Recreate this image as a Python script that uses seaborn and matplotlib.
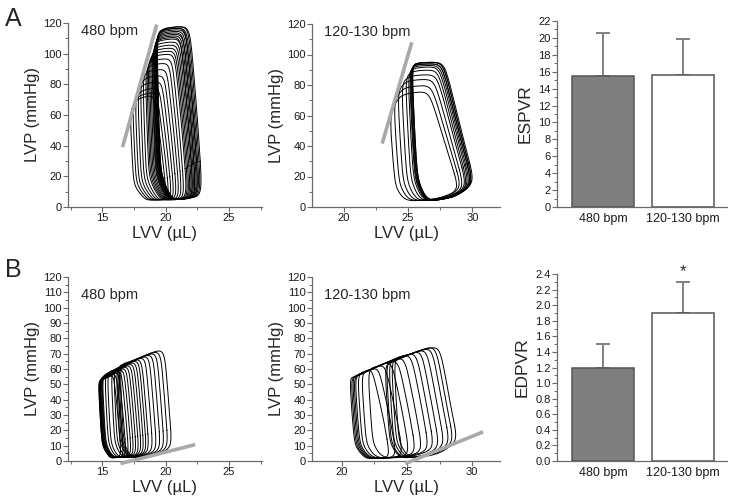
import numpy as np
import pandas as pd
import seaborn as sns
import matplotlib
matplotlib.use("Agg")
import matplotlib.pyplot as plt
from matplotlib.ticker import MultipleLocator

# ---- values ----
# PV loops, one entry per loop (largest -> smallest): end-systolic volume/pressure,
# peak pressure, end-diastolic volume/pressure
a_fast_esv = [19.3, 19.3, 19.25, 19.25, 19.2, 19.2, 19.15, 19.1, 19.1, 19.05, 19.0, 18.95,
              18.9, 18.8, 18.7, 18.6, 18.5, 18.4, 18.2, 18.0, 17.8, 17.6, 17.4, 17.2]
a_fast_pes = [113, 113, 112, 112, 111, 110, 109, 108, 107, 106, 105, 103,
              101, 99, 97, 95, 92, 89, 85, 80, 75, 70, 66, 62]
a_fast_ppk = [118, 118, 117, 117, 116, 115, 114, 113, 112, 111, 110, 108,
              106, 104, 102, 100, 97, 94, 90, 86, 82, 78, 75, 73]
a_fast_edv = [22.9, 22.8, 22.7, 22.6, 22.6, 22.5, 22.4, 22.4, 22.3, 22.2, 22.2, 22.1,
              22.0, 21.9, 21.8, 21.7, 21.5, 21.3, 21.1, 20.9, 20.7, 20.5, 20.3, 20.1]
a_fast_edp = [8, 8, 8, 8, 8, 8, 7.5, 7.5, 7.5, 7, 7, 7, 7, 6.5, 6.5, 6.5, 6, 6, 6, 6, 5.5, 5.5, 5.5, 5]

a_slow_esv = [25.3, 25.3, 25.25, 25.2, 25.15, 25.1, 25.0, 24.8, 24.5, 24.2, 23.9, 23.6]
a_slow_pes = [93, 93, 92, 92, 91, 90, 88, 85, 81, 76, 69, 60]
a_slow_ppk = [95, 95, 95, 94, 94, 93, 92, 90, 87, 84, 80, 76]
a_slow_edv = [30.2, 30.1, 30.1, 30.0, 30.0, 29.9, 29.8, 29.7, 29.6, 29.4, 29.2, 29.0]
a_slow_edp = [16, 16, 15, 15, 15, 14, 14, 13, 13, 12, 12, 11]

b_fast_esv = [16.4, 16.3, 16.2, 16.1, 15.9, 15.7, 15.4, 15.2, 15.0, 14.95, 14.9, 14.85,
              14.8, 14.8, 14.75, 14.75, 14.7, 14.7]
b_fast_pes = [63, 62, 62, 61, 60, 59, 58, 57, 56, 55, 55, 54, 54, 53, 53, 53, 52, 52]
b_fast_ppk = [73, 72, 71, 70, 69, 68, 67, 66, 65, 64, 63, 62, 61, 60, 59, 58, 57, 56]
b_fast_edv = [20.5, 20.2, 19.9, 19.6, 19.3, 19.0, 18.7, 18.5, 18.3, 18.1, 17.9, 17.7,
              17.5, 17.3, 17.1, 16.9, 16.7, 16.5]
b_fast_edp = [9, 8.5, 8, 7.5, 7, 6.5, 6, 5.5, 5, 5, 4.5, 4.5, 4, 4, 3.5, 3.5, 3, 3]

b_slow_esv = [24.0, 23.8, 23.6, 23.4, 23.3, 22.0, 21.5, 21.2, 21.0, 20.9, 20.8, 20.7, 20.6]
b_slow_pes = [67, 66, 65, 64, 63, 60, 58, 57, 56, 55, 55, 54, 54]
b_slow_ppk = [75, 75, 74, 73, 72, 71, 70, 68, 66, 65, 63, 61, 60]
b_slow_edv = [28.9, 28.6, 28.3, 27.9, 27.5, 27.1, 26.7, 26.2, 25.7, 25.2, 24.7, 24.2, 23.7]
b_slow_edp = [13, 12, 11, 10, 9, 8, 7, 6, 5, 4, 3.5, 3, 2.5]

# ESPVR / EDPVR fit lines (volume, pressure at the two ends)
a_fast_fit_v, a_fast_fit_p = [16.6, 19.3], [39, 119]
a_slow_fit_v, a_slow_fit_p = [23.0, 25.3], [41.6, 108]
b_fast_fit_v, b_fast_fit_p = [16.44, 22.33], [-1.7, 10.7]
b_slow_fit_v, b_slow_fit_p = [24.87, 30.85], [-1.7, 19]

# bar panels
groups = ["480 bpm", "120-130 bpm"]
espvr_mean = [15.5, 15.6]
espvr_sem = [5.1, 4.3]
edpvr_mean = [1.2, 1.9]
edpvr_sem = [0.3, 0.4]


def rounded(pts, cut=0.2, n_iter=4):
    # corner-rounding of a closed polygon (Chaikin)
    pts = np.asarray(pts, float)
    dense = []
    for i in range(len(pts)):
        a, b = pts[i], pts[(i + 1) % len(pts)]
        dense += [a, a + cut * (b - a), b - cut * (b - a)]
    p = np.array(dense[1:] + dense[:1])
    p = p[[i for i in range(len(p)) if i % 3 != 2]]  # drop the hard corners
    for _ in range(n_iter):
        q = np.roll(p, -1, axis=0)
        new = np.empty((2 * len(p), 2))
        new[0::2] = 0.75 * p + 0.25 * q
        new[1::2] = 0.25 * p + 0.75 * q
        p = new
    return np.vstack([p, p[:1]])


def loops_frame(esv, pes, ppk, edv, edp, pmin, slant, lean, foot, flat):
    rows = []
    for k, (v0, p0, pk, v1, p1) in enumerate(zip(esv, pes, ppk, edv, edp)):
        trv = v1 - slant
        poly = [
            (v1, p1),
            (v1 - 0.35 * slant, 0.45 * pk),
            (trv + 0.1 * slant, 0.93 * pk),
            (trv - 0.1 * (trv - v0), pk),
            (v0 + 0.25 * (trv - v0), p0 + flat * (pk - p0)),
            (v0, p0),
            (v0 + 0.5 * lean, 0.5 * (p0 + pmin)),
            (v0 + lean, pmin + 0.15 * p0),
            (v0 + lean + foot, pmin),
            (v1 - 0.3 * (v1 - v0), pmin + 0.25 * (p1 - pmin)),
        ]
        xy = rounded(poly)
        rows.append(pd.DataFrame({"loop": k, "V": xy[:, 0], "P": xy[:, 1]}))
    return pd.concat(rows, ignore_index=True)


sns.set_style("ticks")
plt.rcParams["font.family"] = ["Liberation Sans", "DejaVu Sans"]
plt.rcParams["axes.edgecolor"] = "#6a6a6a"
plt.rcParams["xtick.color"] = "#6a6a6a"
plt.rcParams["ytick.color"] = "#6a6a6a"
plt.rcParams["xtick.labelcolor"] = "#1a1a1a"
plt.rcParams["ytick.labelcolor"] = "#1a1a1a"

fig = plt.figure(figsize=(7.35, 5.01), dpi=100)
W, H = 735, 501


def add_ax(l, r, t, b):
    return fig.add_axes([l / W, 1 - b / H, (r - l) / W, (b - t) / H])


def style_ax(ax, ymaj, ymin, xmaj=None, xmin=None):
    sns.despine(ax=ax)
    ax.yaxis.set_major_locator(MultipleLocator(ymaj))
    ax.yaxis.set_minor_locator(MultipleLocator(ymin))
    if xmaj:
        ax.xaxis.set_major_locator(MultipleLocator(xmaj))
        ax.xaxis.set_minor_locator(MultipleLocator(xmin))
    ax.tick_params(which="major", length=3.5, width=0.8, labelsize=8, pad=1)
    ax.tick_params(which="minor", length=2, width=0.7)
    for s in ax.spines.values():
        s.set_linewidth(0.9)


panels = [
    # (frame, fit, xlim, ylim, ymaj, ymin, label, box, text y)
    (loops_frame(a_fast_esv, a_fast_pes, a_fast_ppk, a_fast_edv, a_fast_edp, 4.5, 1.0, 0.3, 0.9, 0.75),
     (a_fast_fit_v, a_fast_fit_p), (12.3, 27.6), 120, 20, 10, "480 bpm", (68, 262, 23, 207), 0.955),
    (loops_frame(a_slow_esv, a_slow_pes, a_slow_ppk, a_slow_edv, a_slow_edp, 3.5, 2.4, 0.45, 0.8, 0.85),
     (a_slow_fit_v, a_slow_fit_p), (17.55, 32.15), 120, 20, 10, "120-130 bpm", (312, 500, 24, 207), 0.955),
    (loops_frame(b_fast_esv, b_fast_pes, b_fast_ppk, b_fast_edv, b_fast_edp, 2.0, 0.6, 0.3, 0.6, 0.2),
     (b_fast_fit_v, b_fast_fit_p), (12.3, 27.6), 120, 10, 5, "480 bpm", (68, 262, 277, 461), 0.90),
    (loops_frame(b_slow_esv, b_slow_pes, b_slow_ppk, b_slow_edv, b_slow_edp, 1.5, 1.4, 0.4, 0.8, 0.2),
     (b_slow_fit_v, b_slow_fit_p), (17.7, 32.15), 120, 10, 5, "120-130 bpm", (312, 500, 277, 461), 0.90),
]

for df, (fv, fp), xlim, ytop, ymaj, ymin, label, box, ty in panels:
    ax = add_ax(*box)
    sns.lineplot(data=df, x="V", y="P", units="loop", estimator=None, sort=False,
                 color="black", lw=0.7, ax=ax, legend=False)
    ax.plot(fv, fp, color="#a9a9a9", lw=2.6, solid_capstyle="butt", clip_on=False, zorder=5)
    ax.set_xlim(*xlim)
    ax.set_ylim(0, ytop)
    style_ax(ax, ymaj, ymin, 5, 2.5)
    ax.set_xlabel("LVV (\u00b5L)", fontsize=12, labelpad=2)
    ax.set_ylabel("LVP (mmHg)", fontsize=12, labelpad=2)
    ax.text(0.065, ty, label, transform=ax.transAxes, fontsize=10.5, va="center", ha="left")

bars = [
    (espvr_mean, espvr_sem, "ESPVR", 22, 2, 1, (557, 727, 21, 207), "%d"),
    (edpvr_mean, edpvr_sem, "EDPVR", 2.4, 0.2, 0.1, (557, 727, 274, 461), "%.1f"),
]
for means, sems, ylab, ytop, ymaj, ymin, box, fmt in bars:
    ax = add_ax(*box)
    ax.errorbar([0, 1], means, yerr=[[0, 0], sems], fmt="none", ecolor="#808080",
                elinewidth=1.4, capsize=5, capthick=1.4, zorder=1)
    sns.barplot(x=groups, y=means, hue=groups, palette=["#7f7f7f", "white"], legend=False,
                edgecolor="#555555", linewidth=1.1, width=0.775, saturation=1, ax=ax, zorder=2)
    ax.set_xlim(-0.575, 1.55)
    ax.set_ylim(0, ytop)
    style_ax(ax, ymaj, ymin)
    ax.yaxis.set_major_formatter(matplotlib.ticker.FormatStrFormatter(fmt))
    ax.tick_params(axis="x", length=0, labelsize=9, pad=4)
    ax.set_ylabel(ylab, fontsize=12.5, labelpad=4)
    ax.set_xlabel("")

ax.text(1, edpvr_mean[1] + edpvr_sem[1] + 0.04, "*", ha="center", va="bottom", fontsize=12)

fig.text(13 / W, 1 - 19 / H, "A", fontsize=18, ha="center", va="center")
fig.text(13 / W, 1 - 270 / H, "B", fontsize=18, ha="center", va="center")

fig.savefig("out.png", dpi=100)
